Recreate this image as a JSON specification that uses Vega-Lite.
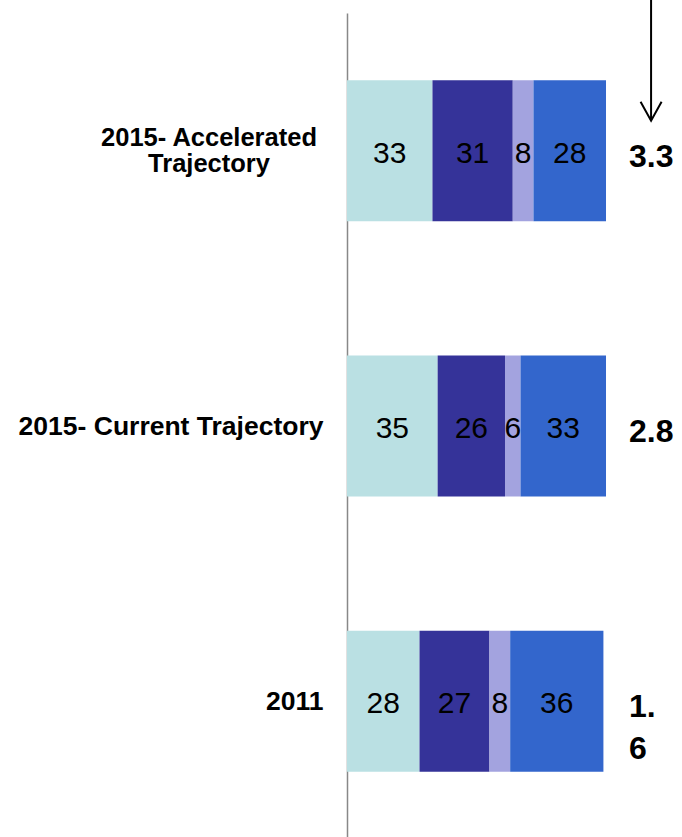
{
  "$schema": "https://vega.github.io/schema/vega-lite/v6.json",
  "width": 335,
  "height": 826,
  "autosize": {"type": "none"},
  "padding": {"left": 347, "top": 13, "right": 0, "bottom": 0},
  "background": "white",
  "config": {
    "view": {"stroke": null},
    "font": "Liberation Sans",
    "text": {"font": "Liberation Sans"}
  },
  "datasets": {
    "segments": [
      {"cat": "2015- Accelerated Trajectory", "seg": 1, "value": 33},
      {"cat": "2015- Accelerated Trajectory", "seg": 2, "value": 31},
      {"cat": "2015- Accelerated Trajectory", "seg": 3, "value": 8},
      {"cat": "2015- Accelerated Trajectory", "seg": 4, "value": 28},
      {"cat": "2015- Current Trajectory", "seg": 1, "value": 35},
      {"cat": "2015- Current Trajectory", "seg": 2, "value": 26},
      {"cat": "2015- Current Trajectory", "seg": 3, "value": 6},
      {"cat": "2015- Current Trajectory", "seg": 4, "value": 33},
      {"cat": "2011", "seg": 1, "value": 28},
      {"cat": "2011", "seg": 2, "value": 27},
      {"cat": "2011", "seg": 3, "value": 8},
      {"cat": "2011", "seg": 4, "value": 36}
    ],
    "totals": [
      {"cat": "2015- Accelerated Trajectory", "total": "3.3"},
      {"cat": "2015- Current Trajectory", "total": "2.8"},
      {"cat": "2011", "total": "1.\n6"}
    ]
  },
  "encoding": {
    "y": {
      "field": "cat",
      "type": "nominal",
      "sort": ["2015- Accelerated Trajectory", "2015- Current Trajectory", "2011"],
      "scale": {"paddingInner": 0.488, "paddingOuter": 0.244},
      "axis": {
        "title": null,
        "ticks": false,
        "domainColor": "#888888",
        "domainWidth": 1.5,
        "labelFont": "Liberation Sans",
        "labelFontSize": 26.5,
        "labelFontWeight": "bold",
        "labelColor": "#000000",
        "labelPadding": 24,
        "labelLimit": 0,
        "labelBaseline": "alphabetic",
        "labelOffset": 9,
        "values": ["2015- Current Trajectory", "2011"]
      }
    }
  },
  "layer": [
    {
      "data": {"name": "segments"},
      "transform": [
        {"stack": "value", "groupby": ["cat"], "sort": [{"field": "seg", "order": "ascending"}], "as": ["x0", "x1"]}
      ],
      "layer": [
        {
          "mark": {"type": "bar"},
          "encoding": {
            "x": {"field": "x0", "type": "quantitative", "scale": {"domain": [0, 129.34], "nice": false, "zero": true}, "axis": null},
            "x2": {"field": "x1"},
            "color": {
              "field": "seg",
              "type": "nominal",
              "scale": {"domain": [1, 2, 3, 4], "range": ["#BAE0E3", "#353399", "#A3A3DF", "#3366CC"]},
              "legend": null
            }
          }
        },
        {
          "transform": [
            {"fold": ["x0", "x1"], "as": ["edge", "xv"]}
          ],
          "mark": {"type": "text", "fontSize": 30, "color": "#000000", "baseline": "alphabetic", "dy": 12, "align": "center"},
          "encoding": {
            "x": {"field": "xv", "aggregate": "mean", "type": "quantitative"},
            "detail": {"field": "seg", "type": "nominal"},
            "text": {"field": "value", "type": "quantitative"}
          }
        }
      ]
    },
    {
      "data": {"values": [{"cat": "2015- Accelerated Trajectory", "label": "2015- Accelerated\nTrajectory"}]},
      "mark": {"type": "text", "fontSize": 25.5, "fontWeight": "bold", "color": "#000000", "align": "center", "baseline": "alphabetic", "dx": -138, "dy": -5, "lineBreak": "\n", "lineHeight": 26.5},
      "encoding": {
        "x": {"datum": 0, "type": "quantitative"},
        "text": {"field": "label", "type": "nominal"}
      }
    },
    {
      "data": {"name": "totals"},
      "mark": {"type": "text", "fontSize": 32, "fontWeight": "bold", "color": "#000000", "align": "left", "baseline": "alphabetic", "dy": 16, "lineBreak": "\n", "lineHeight": 42},
      "encoding": {
        "x": {"datum": 108.9, "type": "quantitative"},
        "text": {"field": "total", "type": "nominal"}
      }
    },
    {
      "data": {"values": [{"cat": "2015- Accelerated Trajectory"}]},
      "mark": {"type": "point", "shape": "M0,-11.5L0,0M-1,-1.8L0,0L1,-1.8", "size": 441, "filled": false, "stroke": "#000000", "strokeWidth": 2, "opacity": 1, "yOffset": -30},
      "encoding": {
        "x": {"datum": 117.4, "type": "quantitative"}
      }
    }
  ]
}
